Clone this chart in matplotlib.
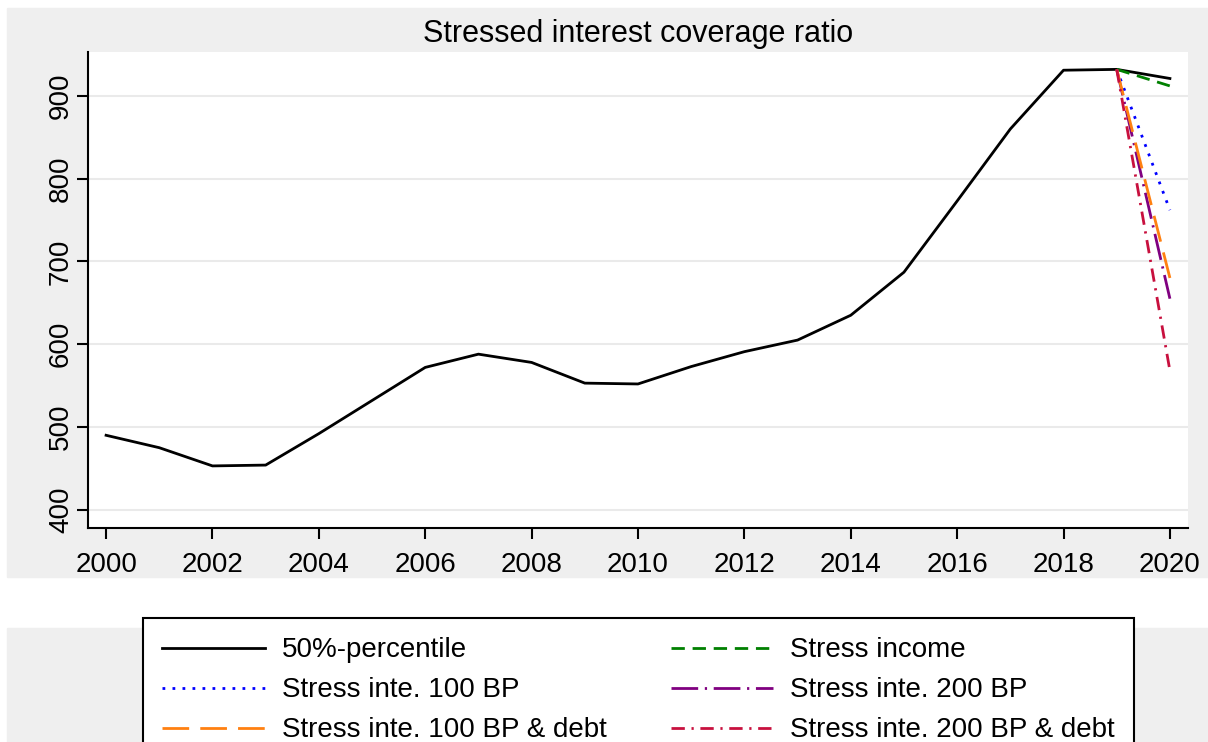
import matplotlib
matplotlib.use("Agg")
import matplotlib.pyplot as plt
from matplotlib.patches import Rectangle

plt.rcParams['font.family'] = ['Liberation Sans', 'DejaVu Sans']

# median series 2000-2020
years = list(range(2000, 2021))
median = [490, 475, 453, 454, 492, 532, 572, 588, 578, 553, 552,
          573, 591, 605, 635, 687, 773, 860, 931, 932, 921]

# stress scenarios 2019 -> 2020
stress_years = [2019, 2020]
stress_income = [932, 912]
stress_100 = [932, 762]
stress_100_debt = [932, 680]
stress_200 = [932, 655]
stress_200_debt = [932, 568]

W, H = 1208, 742
fig = plt.figure(figsize=(W / 100, H / 100), dpi=100)
fig.patch.set_facecolor("white")

grey = "#EFEFEF"
# grey panels (graph region and legend region)
fig.patches.append(Rectangle((7 / W, 1 - 577 / H), 1 - 7 / W, (577 - 8) / H,
                             transform=fig.transFigure, color=grey, zorder=-5))
fig.patches.append(Rectangle((7 / W, 0), 1 - 7 / W, 1 - 628 / H,
                             transform=fig.transFigure, color=grey, zorder=-5))

ax = fig.add_axes([88 / W, 1 - 528 / H, (1188 - 88) / W, (528 - 52) / H])
ax.set_facecolor("white")
ax.set_zorder(1)

lw = 2.0
l0, = ax.plot(years, median, color="black", lw=lw, ls="-")
l1, = ax.plot(stress_years, stress_income, color="#008000", lw=lw, ls=(0, (4.8, 2.8)))
l2, = ax.plot(stress_years, stress_100, color="#0000FF", lw=lw, ls=(0, (1, 2.6)))
l3, = ax.plot(stress_years, stress_200, color="#800080", lw=lw, ls=(0, (9.6, 2.4, 0.8, 2.4)))
l4, = ax.plot(stress_years, stress_100_debt, color="#FF8010", lw=lw, ls=(0, (9.6, 4)))
l5, = ax.plot(stress_years, stress_200_debt, color="#C8103E", lw=lw, ls=(0, (4.8, 2.4, 0.8, 2.4)))

ax.set_xlim(1999.66, 2020.34)
ax.set_ylim(378, 953)
ax.set_xticks(range(2000, 2021, 2))
ax.set_yticks(range(400, 901, 100))
ax.grid(axis="y", color="#EAEAEA", lw=1.5)
ax.set_axisbelow(True)
for s in ["top", "right"]:
    ax.spines[s].set_visible(False)
for s in ["left", "bottom"]:
    ax.spines[s].set_linewidth(1.5)
ax.tick_params(axis="both", direction="out", length=8, width=1.5, labelsize=20)
ax.tick_params(axis="y", pad=2)
ax.tick_params(axis="x", pad=9)
for t in ax.get_yticklabels():
    t.set_rotation(90)
    t.set_va("center")

ax.set_title("Stressed interest coverage ratio", fontsize=22, pad=7)

# legend filled column by column -> row order matches reference
handles = [l0, l2, l4, l1, l3, l5]
labels = ["50%-percentile", "Stress inte. 100 BP", "Stress inte. 100 BP & debt",
          "Stress income", "Stress inte. 200 BP", "Stress inte. 200 BP & debt"]
leg = fig.legend(handles, labels, ncol=2, loc="upper center",
                 bbox_to_anchor=(638.5 / W, 1 - 618 / H), borderaxespad=0,
                 fontsize=20, frameon=True, fancybox=False, framealpha=1,
                 edgecolor="black", handlelength=3.7, handletextpad=0.6,
                 columnspacing=2.3, labelspacing=0.5, borderpad=0.7)
leg.get_frame().set_linewidth(1.5)

fig.savefig("out.png", dpi=100, facecolor=fig.get_facecolor())
